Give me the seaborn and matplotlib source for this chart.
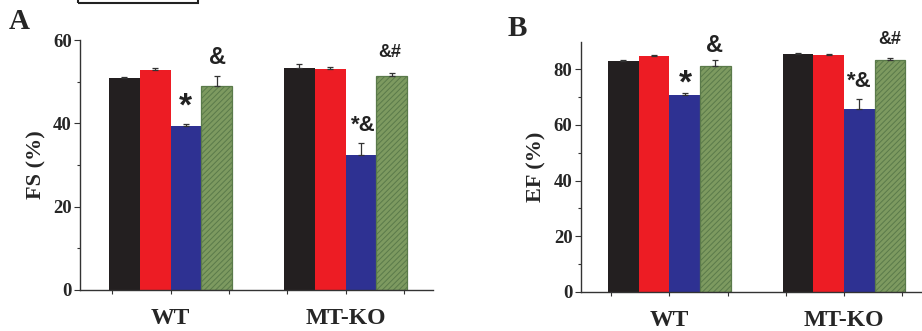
import numpy as np
import pandas as pd
import matplotlib
matplotlib.use("Agg")
import matplotlib.pyplot as plt
from matplotlib.patches import Rectangle
import seaborn as sns

sns.set_style("ticks")
plt.rcParams['font.family'] = ['Liberation Serif', 'DejaVu Serif']
plt.rcParams['hatch.linewidth'] = 0.7

# data
groups = ["WT", "MT-KO"]
treatments = ["t1", "t2", "t3", "t4"]
fs_mean = [51.0, 52.8, 39.4, 48.9, 53.4, 53.0, 32.4, 51.3]
fs_err = [0.2, 0.5, 0.4, 2.4, 0.8, 0.6, 2.8, 0.9]
ef_mean = [83.0, 84.7, 70.8, 81.0, 85.4, 84.9, 65.6, 83.2]
ef_err = [0.1, 0.3, 0.5, 2.2, 0.4, 0.4, 3.5, 0.8]
colors = ["#231f20", "#ed1c24", "#2e3192", "#7d9a60"]

fs_marks = [("&", 0.266, 55.9, 17), ("*", 0.083, 44.0, 24), ("*&", 1.10, 39.4, 16), ("&#", 1.25, 56.9, 13)]
ef_marks = [("&", 0.26, 88.6, 17), ("*", 0.093, 74.5, 24), ("*&", 1.09, 75.4, 16), ("&#", 1.26, 90.6, 13)]


def make_df(mean):
    return pd.DataFrame({
        "group": np.repeat(groups, len(treatments)),
        "treat": treatments * len(groups),
        "value": mean,
    })


def draw_panel(ax, mean, err, marks, ylabel, ylim, yticks, xlim):
    df = make_df(mean)
    sns.barplot(data=df, x="group", y="value", hue="treat", order=groups,
                hue_order=treatments, palette=colors, width=0.704, gap=0,
                errorbar=None, legend=False, ax=ax, saturation=1)
    # bars in hue order: all t1, then t2, ...
    bars = ax.patches[:len(mean)]
    for b in bars:
        b.set_edgecolor("none")
    xs, tops, errs = [], [], []
    for i, t in enumerate(treatments):
        for j, g in enumerate(groups):
            b = bars[i * len(groups) + j]
            k = j * len(treatments) + i
            xs.append(b.get_x() + b.get_width() / 2)
            tops.append(mean[k])
            errs.append(err[k])
            if i == 3:
                b.set_hatch("//////")
                b.set_edgecolor("#5a7a4a")
                b.set_linewidth(0.9)
    ax.errorbar(xs, tops, yerr=[np.zeros(len(errs)), errs], fmt="none",
                ecolor="#333333", elinewidth=0.9, capsize=2.5, capthick=0.9)
    for txt, x, y, fsz in marks:
        ax.text(x, y, txt, ha="center", va="center", fontsize=fsz,
                fontweight="bold", family="Liberation Sans", clip_on=False,
                color="#222222")
    ax.set_ylim(*ylim)
    ax.set_xlim(*xlim)
    ax.set_yticks(yticks)
    ax.set_yticks(np.arange(10, ylim[1], 20), minor=True)
    ax.set_yticklabels([str(v) for v in yticks], fontsize=13.5, fontweight="bold")
    ax.set_xticks([0, 1])
    ax.set_xticklabels(groups, fontsize=17, fontweight="bold")
    ax.set_xticks([-1/3, 1/3, 2/3, 4/3], minor=True)
    ax.tick_params(axis="x", which="both", direction="out", length=3, width=0.8, pad=10, color="#333333")
    ax.tick_params(axis="y", which="major", direction="out", length=4, width=0.8, pad=2, color="#333333")
    ax.tick_params(axis="y", which="minor", direction="out", length=2.5, width=0.8, color="#333333")
    ax.set_xlabel("")
    ax.set_ylabel(ylabel, fontsize=16, fontweight="bold", labelpad=5)
    sns.despine(ax=ax)
    for s in ["left", "bottom"]:
        ax.spines[s].set_linewidth(1.0)
        ax.spines[s].set_color("#333333")


fig = plt.figure(figsize=(9.22, 3.31), dpi=100)
ax1 = fig.add_axes([0.0868, 0.1239, 0.3829, 0.755])
ax2 = fig.add_axes([0.630, 0.118, 0.370, 0.755])

draw_panel(ax1, fs_mean, fs_err, fs_marks, "FS (%)", (0, 60), [0, 20, 40, 60], (-0.517, 1.5))
draw_panel(ax2, ef_mean, ef_err, ef_marks, "EF (%)", (0, 89.7), [0, 20, 40, 60, 80], (-0.507, 1.447))

fig.text(0.010, 0.935, "A", fontsize=21, fontweight="bold", va="center")
fig.text(0.551, 0.915, "B", fontsize=21, fontweight="bold", va="center")
fig.patches.append(Rectangle((78 / 922, 1 - 3 / 331), 120 / 922, 0.1,
                             transform=fig.transFigure, fill=False,
                             edgecolor="#222222", linewidth=1.5))

fig.savefig("out.png", dpi=100)
